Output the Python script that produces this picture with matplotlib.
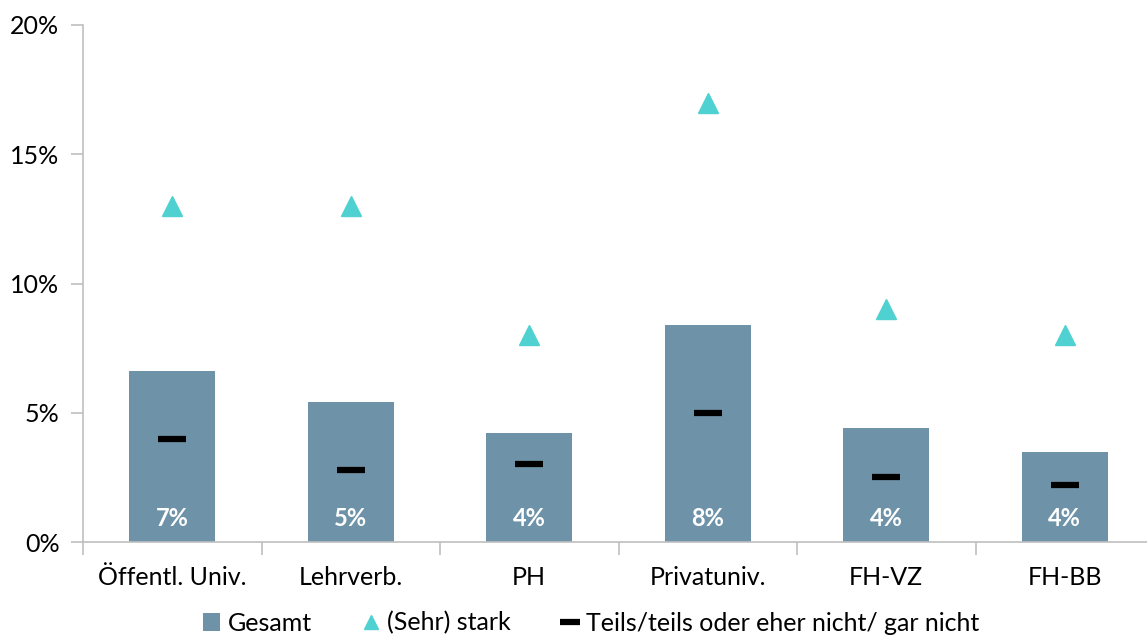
import numpy as np
import matplotlib.pyplot as plt
from matplotlib.ticker import PercentFormatter

plt.rcParams['font.family'] = ['Lato', 'DejaVu Sans']

# data (percent)
categories = ['Öffentl. Univ.', 'Lehrverb.', 'PH', 'Privatuniv.', 'FH-VZ', 'FH-BB']
gesamt = [6.6, 5.4, 4.2, 8.4, 4.4, 3.5]
gesamt_labels = ['7%', '5%', '4%', '8%', '4%', '4%']
sehr_stark = [13, 13, 8, 17, 9, 8]
teils = [4.0, 2.8, 3.0, 5.0, 2.5, 2.2]

bar_color = '#6E93A8'
tri_color = '#4FD1D1'
axis_color = '#BFBFBF'

fig = plt.figure(figsize=(11.47, 6.36), dpi=100)
ax = fig.add_axes([83 / 1147, 94 / 636, 1071 / 1147, 517 / 636])

x = np.arange(len(categories))
h_bar = ax.bar(x, gesamt, width=0.48, color=bar_color, label='Gesamt', zorder=2)
h_tri, = ax.plot(x, sehr_stark, linestyle='none', marker='^', markersize=15,
                 color=tri_color, label='(Sehr) stark', zorder=3)
h_dash, = ax.plot(x, teils, linestyle='none', marker='_', markersize=20, markeredgewidth=4.5,
                  color='black', label='Teils/teils oder eher nicht/ gar nicht', zorder=3)

for xi, lab in zip(x, gesamt_labels):
    ax.text(xi, 0.9, lab, ha='center', va='center', color='white',
            fontsize=17, fontweight='bold', zorder=4)

ax.set_xlim(-0.5, len(categories) - 0.5)
ax.set_ylim(0, 20)
ax.set_yticks([0, 5, 10, 15, 20])
ax.yaxis.set_major_formatter(PercentFormatter(decimals=0))
ax.set_xticks(x)
ax.set_xticklabels(categories)
ax.set_xticks(np.arange(len(categories) + 1) - 0.5, minor=True)
ax.tick_params(axis='x', which='major', length=0, pad=17, labelsize=18)
ax.tick_params(axis='x', which='minor', length=9, color=axis_color, width=1.2)
ax.tick_params(axis='y', length=9, color=axis_color, width=1.2, pad=8, labelsize=18)

for side in ['top', 'right']:
    ax.spines[side].set_visible(False)
for side in ['left', 'bottom']:
    ax.spines[side].set_color(axis_color)
    ax.spines[side].set_linewidth(1.2)

fig.legend([h_bar, h_tri, h_dash],
           ['Gesamt', '(Sehr) stark', 'Teils/teils oder eher nicht/ gar nicht'],
           loc='center', bbox_to_anchor=(591 / 1147, 13 / 636), ncol=3, frameon=False,
           fontsize=18, handlelength=0.7, handletextpad=0.3, columnspacing=2.0,
           markerscale=0.7)

fig.savefig('out.png', dpi=100)
